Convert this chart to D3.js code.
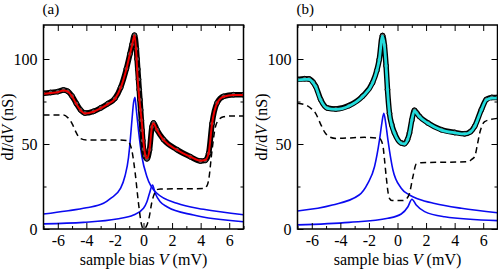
<!DOCTYPE html>
<html>
<head>
<meta charset="utf-8">
<script src="https://cdn.jsdelivr.net/npm/d3@7"></script>
<style>
  body { margin: 0; background: #fff; }
  svg text { font-family: "Liberation Serif", "Times New Roman", "DejaVu Serif", serif !important; }
</style>
</head>
<body>
<script>
// panel (a) - measured dI/dV, fit, step background and two lorentzians
const aData = [[-7, 79.8], [-6.5, 80.3], [-6, 80.8], [-5.6, 81.8], [-5.3, 81], [-5.0, 78.2], [-4.7, 73.8],
  [-4.4, 70], [-4.1, 68.2], [-3.5, 69.2], [-3.0, 71.2], [-2.5, 73.7], [-2.0, 76.8], [-1.6, 83.2], [-1.2, 94.2],
  [-0.95, 103], [-0.8, 108.5], [-0.63, 114], [-0.5, 106], [-0.45, 100], [-0.4, 94], [-0.35, 88], [-0.3, 82],
  [-0.25, 76], [-0.2, 70], [-0.15, 64], [-0.1, 58], [-0.05, 52], [0, 47], [0.1, 43], [0.24, 41.3], [0.42, 46.5],
  [0.59, 60], [0.7, 62.4], [0.94, 58.4], [1.4, 52.6], [2.34, 46.7], [3.28, 42.5], [3.98, 40], [4.33, 40.4],
  [4.56, 44.5], [4.8, 62], [5.15, 74.2], [5.6, 78], [6.3, 79], [7, 79]];
const aFit = [[-7, 79.5], [-6.5, 80], [-6, 80.5], [-5.6, 81.5], [-5.3, 80.8], [-5.0, 78], [-4.7, 73.5],
  [-4.4, 69.8], [-4.1, 68], [-3.5, 69], [-3.0, 71], [-2.5, 73.5], [-2.0, 76.5], [-1.6, 83], [-1.2, 94],
  [-0.95, 103], [-0.8, 108], [-0.63, 114], [-0.5, 103], [-0.42, 90], [-0.35, 82], [-0.11, 62], [0, 51],
  [0.12, 43.5], [0.24, 41.6], [0.42, 46.5], [0.59, 60], [0.7, 62.2], [0.94, 58.2], [1.4, 52.4], [2.34, 46.5],
  [3.28, 42.5], [3.98, 40.2], [4.33, 40.6], [4.56, 44.5], [4.8, 62], [5.15, 74], [5.6, 77.8], [6.3, 78.8], [7, 78.8]];
const aStep = [[-7, 67], [-5.6, 67], [-5.3, 65.5], [-5.0, 62], [-4.7, 56.5], [-4.44, 53.3], [-4.0, 52.4],
  [-2.0, 52.4], [-1.15, 52], [-0.95, 50], [-0.81, 46], [-0.58, 32.7], [-0.35, 15.1], [-0.15, 3], [0, 0],
  [0.24, 2.4], [0.4, 7], [0.59, 16], [0.8, 21.5], [1.0, 23.3], [1.2, 23.5], [4.2, 23.8], [4.45, 25.5],
  [4.56, 28.8], [4.8, 46.5], [5.03, 60], [5.3, 64.5], [5.6, 66], [6.1, 66.5], [7, 66.5]];
const aPeak1 = [[-7, 8.8], [-5.4, 10.6], [-4, 12.5], [-2.8, 15.1], [-2.3, 18], [-1.6, 24], [-1.3, 31],
  [-1.05, 42], [-0.93, 52], [-0.8, 65], [-0.7, 74], [-0.6, 77.5], [-0.5, 70], [-0.35, 58], [-0.11, 42.5],
  [0.24, 30.8], [0.94, 21], [2.34, 15.1], [4.2, 11.6], [7, 8.4]];
const aPeak2 = [[-7, 3], [-4.2, 3.9], [-1.87, 5.9], [-0.7, 8.2], [0, 12.2], [0.24, 16], [0.42, 21],
  [0.63, 25.9], [0.82, 21], [1.17, 16], [1.64, 13.1], [3.5, 8.2], [7, 4.3]];

// panel (b)
const bData = [[-7, 88], [-6.5, 88.4], [-6.2, 88.3], [-5.9, 86.3], [-5.73, 84], [-5.38, 76.2], [-4.91, 71.2],
  [-4.32, 70.6], [-3.39, 72.6], [-2.46, 78], [-1.75, 86], [-1.45, 93.2], [-1.28, 99.6], [-1.05, 113.8],
  [-0.92, 108.2], [-0.8, 96], [-0.7, 82], [-0.56, 68], [-0.4, 61.2], [-0.21, 56.5], [0.26, 50.6], [0.49, 50.2],
  [0.7, 52.6], [0.84, 56.5], [1.0, 64], [1.19, 69.8], [1.35, 68.2], [1.54, 66.2], [2.13, 62.4], [3.07, 58.4],
  [4.0, 56.8], [4.7, 56], [5.1, 57.2], [5.4, 60.4], [5.87, 70.2], [6.22, 76.2], [6.6, 77.4], [7, 77.4]];
const bFit = [[-7, 87.6], [-6.5, 88], [-6.2, 88], [-5.9, 86], [-5.73, 83.7], [-5.38, 75.9], [-4.91, 71],
  [-4.32, 70.4], [-3.39, 72.4], [-2.46, 77.8], [-1.75, 85.7], [-1.45, 93], [-1.28, 99.4], [-1.05, 113.5],
  [-0.92, 108], [-0.8, 96], [-0.7, 82], [-0.56, 68], [-0.4, 61], [-0.21, 56.3], [0.26, 50.4], [0.49, 50],
  [0.7, 52.5], [0.84, 56.3], [1.0, 64], [1.19, 69.6], [1.35, 68], [1.54, 66], [2.13, 62.2], [3.07, 58.2],
  [4.0, 56.6], [4.7, 55.9], [5.1, 57], [5.4, 60.2], [5.87, 70], [6.22, 75.9], [6.6, 77], [7, 77]];
const bStep = [[-7, 74], [-6.3, 72.4], [-6, 70.5], [-5.73, 68], [-5.4, 62], [-5.1, 57], [-4.8, 54.3],
  [-4.3, 53.3], [-2.3, 53.9], [-1.26, 53.3], [-1.03, 49.4], [-0.9, 40], [-0.79, 30.8], [-0.65, 21],
  [-0.56, 18], [-0.4, 16.7], [0.38, 16.7], [0.6, 17.5], [0.84, 21], [1.08, 30.8], [1.31, 38.2], [1.66, 39],
  [4.94, 39.6], [5.2, 41], [5.4, 42.5], [5.6, 50], [5.75, 56.3], [6.1, 63.1], [6.58, 64.5], [7, 65.1]];
const bPeak1 = [[-7, 10.6], [-4.56, 14.1], [-2.69, 20], [-2.08, 26.9], [-1.61, 36.6], [-1.26, 52.4],
  [-1.1, 62], [-0.96, 68], [-0.82, 62], [-0.67, 52.4], [-0.32, 34.7], [0.26, 24], [0.84, 20], [1.5, 17.5],
  [2.6, 15], [4.47, 12.2], [7, 9.6]];
const bPeak2 = [[-7, 2.4], [-3.39, 3.9], [-0.67, 6.3], [0.26, 8.8], [0.73, 13.1], [1.01, 17.5], [1.31, 14.1],
  [1.9, 10.2], [3.3, 7.2], [7, 4.9]];

const xMajor = [-6, -4, -2, 0, 2, 4, 6];
const xMinor = [-7, -5, -3, -1, 1, 3, 5, 7];
const yMajor = [0, 50, 100];
const yMinor = [25, 75];

const W = 498, H = 270;
const plotTop = 25, plotBottom = 229, plotW = 200;
const serif = '"Liberation Serif", "Times New Roman", "DejaVu Serif", serif';

const svg = d3.select("body").append("svg").attr("width", W).attr("height", H);

function panel(left, tag, data, fit, fitColor, step, peak1, peak2) {
  const x = d3.scaleLinear().domain([-7, 7]).range([left, left + plotW]);
  const y = d3.scaleLinear().domain([0, 120]).range([plotBottom, plotTop]);
  const g = svg.append("g").attr("font-family", serif);

  g.append("clipPath").attr("id", "clip" + tag)
    .append("rect").attr("x", left).attr("y", plotTop).attr("width", plotW).attr("height", plotBottom - plotTop);

  const line = d3.line().x((d) => x(d[0])).y((d) => y(d[1])).curve(d3.curveMonotoneX);
  const plot = g.append("g").attr("clip-path", `url(#clip${tag})`);

  // lorentzians
  [peak1, peak2].forEach((p) => {
    plot.append("path").datum(p).attr("fill", "none").attr("stroke", "#0a0af0")
      .attr("stroke-width", 1.6).attr("d", line);
  });
  // step background
  plot.append("path").datum(step).attr("fill", "none").attr("stroke", "#000")
    .attr("stroke-width", 1.5).attr("stroke-dasharray", "6,4").attr("d", line);
  // measured points
  plot.append("path").datum(data).attr("fill", "none").attr("stroke", "#000")
    .attr("stroke-width", 5.5).attr("stroke-linejoin", "round").attr("d", line);
  plot.selectAll(".pt").data(data).enter().append("circle")
    .attr("cx", (d) => x(d[0])).attr("cy", (d) => y(d[1])).attr("r", 2.4)
    .attr("fill", "#555").attr("stroke", "#000").attr("stroke-width", 1);
  // fit
  plot.append("path").datum(fit).attr("fill", "none").attr("stroke", fitColor)
    .attr("stroke-width", tag === "a" ? 2 : 2.8).attr("d", line);

  // axes, ticks pointing inward on all four sides
  const fmt = (d) => String(d);
  const axes = [
    [d3.axisBottom(x).tickValues(xMajor).tickSize(-6).tickPadding(6).tickFormat(fmt), `translate(0,${plotBottom})`],
    [d3.axisBottom(x).tickValues(xMinor).tickSize(-3).tickFormat(""), `translate(0,${plotBottom})`],
    [d3.axisTop(x).tickValues(xMajor).tickSize(-6).tickFormat(""), `translate(0,${plotTop})`],
    [d3.axisTop(x).tickValues(xMinor).tickSize(-3).tickFormat(""), `translate(0,${plotTop})`],
    [d3.axisLeft(y).tickValues(yMajor).tickSize(-6).tickPadding(6).tickFormat(fmt), `translate(${left},0)`],
    [d3.axisLeft(y).tickValues(yMinor).tickSize(-3).tickFormat(""), `translate(${left},0)`],
    [d3.axisRight(y).tickValues(yMajor).tickSize(-6).tickFormat(""), `translate(${left + plotW},0)`],
    [d3.axisRight(y).tickValues(yMinor).tickSize(-3).tickFormat(""), `translate(${left + plotW},0)`]
  ];
  axes.forEach(([ax, tr]) => {
    const a = g.append("g").attr("transform", tr).call(ax).attr("font-family", serif).attr("font-size", 16);
    a.select(".domain").remove();
    a.selectAll(".tick line").attr("stroke", "#000").attr("stroke-width", 1);
    a.selectAll("text").attr("fill", "#000");
  });

  g.append("rect").attr("x", left).attr("y", plotTop).attr("width", plotW).attr("height", plotBottom - plotTop)
    .attr("fill", "none").attr("stroke", "#000").attr("stroke-width", 1.5);

  // panel tag
  g.append("text").attr("x", left - 1).attr("y", 13.5).attr("font-size", 15).text(`(${tag})`);

  // axis titles
  const xt = g.append("text").attr("x", left + plotW / 2).attr("y", 264.5)
    .attr("text-anchor", "middle").attr("font-size", 16);
  xt.append("tspan").text("sample bias ");
  xt.append("tspan").attr("font-style", "italic").text("V");
  xt.append("tspan").text(" (mV)");

  const yt = g.append("text").attr("transform", `translate(${left - 31},${(plotTop + plotBottom) / 2}) rotate(-90)`)
    .attr("text-anchor", "middle").attr("font-size", 16);
  yt.append("tspan").text("d");
  yt.append("tspan").attr("font-style", "italic").text("I");
  yt.append("tspan").text("/d");
  yt.append("tspan").attr("font-style", "italic").text("V");
  yt.append("tspan").text(" (nS)");
}

panel(43.5, "a", aData, aFit, "#ee0000", aStep, aPeak1, aPeak2);
panel(297.5, "b", bData, bFit, "#22dcdc", bStep, bPeak1, bPeak2);
</script>
</body>
</html>
